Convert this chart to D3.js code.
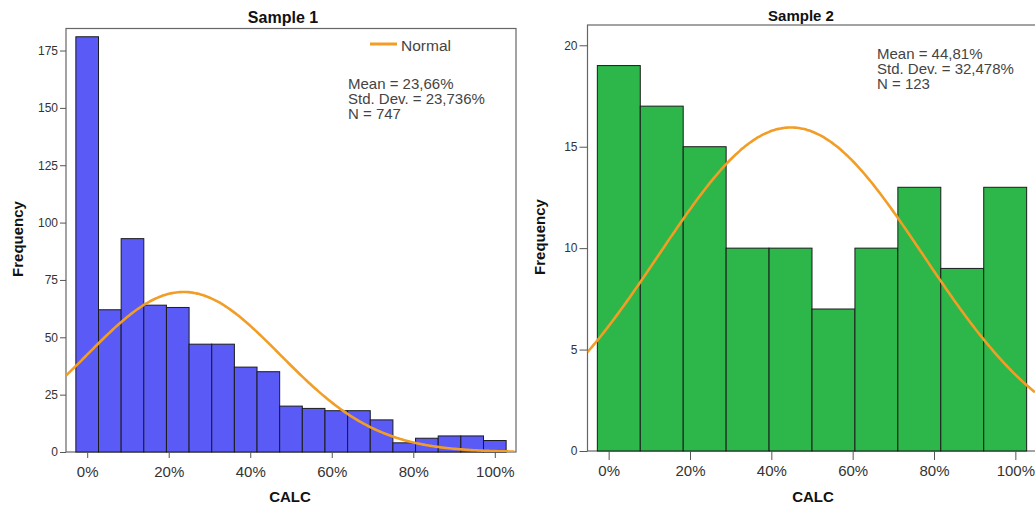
<!DOCTYPE html>
<html>
<head>
<meta charset="utf-8">
<script src="https://cdn.jsdelivr.net/npm/d3@7"></script>
<style>
  body { margin: 0; background: #fff; }
  svg { display: block; font-family: Arial, "Liberation Sans", sans-serif; }
  .axis path, .axis line { stroke: #555; }
  .axis text { fill: #333; }
</style>
</head>
<body>
<svg id="chart" width="1035" height="506"></svg>
<script>
// histogram counts
const sample1Counts = [181, 62, 93, 64, 63, 47, 47, 37, 35, 20, 19, 18, 18, 14, 4, 6, 7, 7, 5];
const sample2Counts = [19, 17, 15, 10, 10, 7, 10, 13, 9, 13];
// bins run over the same range in both panels
const binRange = [-2.78, 102.78];
const xTicks = [0, 20, 40, 60, 80, 100];
const sample1YTicks = [0, 25, 50, 75, 100, 125, 150, 175];
const sample2YTicks = [0, 5, 10, 15, 20];
const sample1Stats = ["Mean = 23,66%", "Std. Dev. = 23,736%", "N = 747"];
const sample2Stats = ["Mean = 44,81%", "Std. Dev. = 32,478%", "N = 123"];
const sample1Normal = {mean: 23.66, sd: 23.736, n: 747};
const sample2Normal = {mean: 44.81, sd: 32.478, n: 123};

const svg = d3.select("#chart");

function drawPanel(cfg) {
  let g = svg.append("g");
  let binW = (binRange[1] - binRange[0]) / cfg.counts.length;
  let bins = cfg.counts.map((c, i) => ({x0: binRange[0] + i * binW, x1: binRange[0] + (i + 1) * binW, count: c}));

  let x = d3.scaleLinear().domain([-5.2, 105.2]).range([cfg.left, cfg.right]);
  let y = d3.scaleLinear().domain([0, cfg.yMax]).range([cfg.bottom, cfg.top]);

  // frame
  g.append("rect")
    .attr("x", cfg.left).attr("y", cfg.top)
    .attr("width", cfg.right - cfg.left).attr("height", cfg.bottom - cfg.top)
    .attr("fill", "#fff").attr("stroke", "#666").attr("stroke-width", 1.2);

  g.selectAll(".bar")
    .data(bins)
    .join("rect")
      .attr("class", "bar")
      .attr("x", d => x(d.x0))
      .attr("width", d => x(d.x1) - x(d.x0))
      .attr("y", d => y(d.count))
      .attr("height", d => y(0) - y(d.count))
      .attr("fill", cfg.color)
      .attr("stroke", "#1c1c1c")
      .attr("stroke-width", 1);

  // normal curve from the stated mean / sd / N
  let nrm = cfg.normal;
  let pdf = v => nrm.n * binW / (nrm.sd * Math.sqrt(2 * Math.PI)) * Math.exp(-0.5 * ((v - nrm.mean) / nrm.sd) ** 2);
  let xs = d3.range(-5.2, 105.3, 0.5);
  let clipId = "clip" + cfg.id;
  g.append("clipPath").attr("id", clipId)
    .append("rect").attr("x", cfg.left).attr("y", cfg.top)
    .attr("width", cfg.right - cfg.left).attr("height", cfg.bottom - cfg.top);
  g.append("path")
    .datum(xs)
    .attr("clip-path", `url(#${clipId})`)
    .attr("fill", "none")
    .attr("stroke", "#f29d26")
    .attr("stroke-width", 2.6)
    .attr("d", d3.line().x(d => x(d)).y(d => y(pdf(d))).curve(d3.curveBasis));

  // axes
  let yAxis = d3.axisLeft(y).tickValues(cfg.yTicks).tickSize(cfg.yTickSize).tickPadding(2).tickSizeOuter(0);
  let yG = g.append("g").attr("class", "axis").attr("transform", `translate(${cfg.left},0)`).call(yAxis);
  yG.select(".domain").remove();
  yG.selectAll("text").attr("font-size", 12);

  let xAxis = d3.axisBottom(x).tickValues(xTicks).tickFormat(d => d + "%")
    .tickSize(cfg.xTickSize).tickPadding(14.5 - cfg.xTickSize).tickSizeOuter(0);
  let xG = g.append("g").attr("class", "axis").attr("transform", `translate(0,${cfg.bottom})`).call(xAxis);
  xG.select(".domain").remove();
  xG.selectAll("text").attr("font-size", 15);

  // titles
  g.append("text")
    .attr("x", cfg.titleX).attr("y", cfg.titleY)
    .attr("text-anchor", "middle").attr("font-weight", "bold").attr("font-size", cfg.titleSize)
    .attr("fill", "#111").text(cfg.title);

  g.append("text")
    .attr("x", cfg.calcX).attr("y", 502)
    .attr("text-anchor", "middle").attr("font-weight", "bold").attr("font-size", 15)
    .attr("fill", "#111").text("CALC");

  g.append("text")
    .attr("transform", `translate(${cfg.freqX},${cfg.freqY}) rotate(-90)`)
    .attr("text-anchor", "middle").attr("font-weight", "bold").attr("font-size", 15)
    .attr("fill", "#111").text("Frequency");

  g.selectAll(".stat")
    .data(cfg.stats)
    .join("text")
      .attr("class", "stat")
      .attr("x", cfg.statX)
      .attr("y", (d, i) => cfg.statY + i * 15)
      .attr("font-size", 15)
      .attr("fill", "#444")
      .text(d => d);

  return g;
}

let p1 = drawPanel({
  id: 1, counts: sample1Counts, normal: sample1Normal, color: "#5a5af6",
  left: 66, right: 516, top: 28.5, bottom: 452, yMax: 184.6,
  yTicks: sample1YTicks, yTickSize: 6, xTickSize: 6,
  title: "Sample 1", titleX: 283, titleY: 23, titleSize: 16,
  calcX: 290, freqX: 23, freqY: 239,
  stats: sample1Stats, statX: 348, statY: 88.5
});

// legend
p1.append("line")
  .attr("x1", 370).attr("x2", 397).attr("y1", 44).attr("y2", 44)
  .attr("stroke", "#f29d26").attr("stroke-width", 3);
p1.append("text")
  .attr("x", 401).attr("y", 50.5).attr("font-size", 15.5).attr("fill", "#444").text("Normal");

drawPanel({
  id: 2, counts: sample2Counts, normal: sample2Normal, color: "#2db64a",
  left: 587.5, right: 1036.5, top: 25, bottom: 451, yMax: 21,
  yTicks: sample2YTicks, yTickSize: 8, xTickSize: 9,
  title: "Sample 2", titleX: 801, titleY: 20.5, titleSize: 15,
  calcX: 813, freqX: 545, freqY: 237,
  stats: sample2Stats, statX: 877, statY: 58.5
});
</script>
</body>
</html>
